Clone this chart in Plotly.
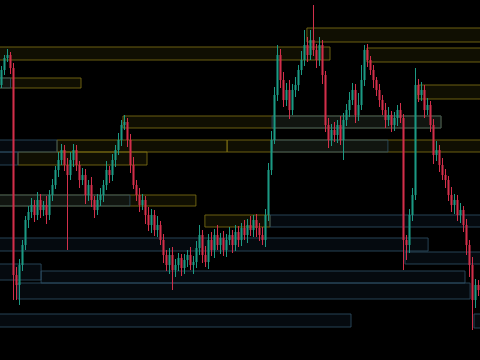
import plotly.graph_objects as go

first_open = 275
closes = [290, 302, 305, 292, 85, 75, 95, 115, 140, 148, 155, 145, 160, 150, 155, 145, 165, 175, 190, 200,
          210, 195, 185, 200, 210, 195, 180, 185, 165, 175, 160, 150, 160, 165, 175, 190, 185, 200, 210, 220,
          235, 238, 220, 195, 175, 165, 155, 160, 145, 135, 145, 130, 135, 120, 105, 95, 105, 90, 95, 102,
          92, 100, 105, 95, 98, 112, 125, 105, 98, 120, 110, 125, 115, 122, 110, 120, 125, 115, 128, 120,
          132, 125, 135, 130, 140, 132, 125, 120, 145, 190, 220, 265, 305, 280, 260, 270, 250, 270, 275, 290,
          300, 315, 305, 320, 310, 300, 315, 285, 235, 220, 230, 225, 235, 220, 240, 250, 260, 270, 245, 255,
          280, 310, 300, 290, 280, 270, 260, 250, 240, 245, 235, 242, 250, 242, 120, 115, 145, 165, 275, 265,
          270, 250, 255, 235, 205, 210, 195, 185, 180, 165, 155, 160, 145, 150, 135, 115, 95, 60, 75, 70]
upper_wick = [4, 3, 6, 3, 5, 8, 6, 5, 4, 6, 7, 5, 8, 6, 4, 9, 5, 6, 4, 8,
              6, 5, 7, 8, 6, 5, 4, 7, 6, 5, 8, 4, 6, 7, 5, 9, 4, 6, 5, 7,
              5, 7, 4, 6, 8, 5, 7, 6, 4, 8, 6, 5, 9, 4, 6, 5, 7, 8, 6, 5,
              4, 6, 5, 8, 6, 7, 10, 5, 9, 6, 8, 6, 10, 5, 7, 6, 8, 5, 7, 6,
              5, 8, 6, 9, 5, 6, 5, 8, 6, 7, 9, 8, 10, 6, 8, 7, 10, 6, 8, 5,
              9, 15, 8, 10, 35, 6, 8, 5, 4, 7, 6, 8, 5, 9, 7, 6, 8, 7, 6, 12,
              15, 5, 6, 4, 5, 3, 6, 5, 7, 8, 4, 6, 5, 7, 4, 5, 6, 7, 17, 6,
              8, 5, 7, 4, 6, 9, 5, 7, 6, 4, 8, 6, 5, 7, 4, 6, 5, 8, 6, 5]
lower_wick = [3, 5, 4, 6, 25, 15, 20, 6, 5, 8, 6, 7, 5, 8, 6, 9, 5, 6, 4, 7,
              5, 6, 75, 5, 7, 6, 8, 5, 9, 6, 7, 8, 5, 6, 7, 5, 8, 6, 7, 5,
              6, 5, 7, 8, 4, 6, 7, 5, 9, 6, 8, 6, 7, 5, 8, 6, 9, 20, 7, 6,
              8, 6, 7, 5, 9, 6, 7, 8, 5, 7, 6, 8, 5, 9, 6, 7, 5, 8, 6, 7,
              6, 5, 8, 6, 7, 9, 6, 5, 7, 6, 5, 4, 6, 8, 7, 6, 9, 5, 7, 6,
              5, 6, 7, 5, 6, 8, 6, 9, 7, 8, 6, 7, 8, 5, 20, 6, 7, 5, 8, 6,
              5, 6, 7, 5, 8, 6, 7, 5, 8, 6, 7, 6, 8, 5, 30, 15, 8, 6, 5, 7,
              6, 8, 5, 7, 9, 6, 7, 5, 8, 6, 7, 9, 6, 8, 7, 10, 12, 30, 8, 6]

# zones: start index, end index, bottom price, top price, kind
zone_x0 = [-2, -2, 101.8, 121.8, 138.8, 40.5, 18.5, 75.2, 5.5, -2, 67.8,
           -2, -2, -2, 90.2, 90.2, -2, -2, 5.5, -2, 134.5, 13.2, 89.5, 157.5, -2]
zone_x1 = [109.5, 26.5, 162, 162, 162, 146.5, 75.2, 162, 48.5, 64.8, 89.5,
           42.8, 5.5, 18.5, 128.8, 146.5, 142.2, 13.2, 156.2, 116.5, 162, 154.5, 162, 162, 3]
zone_y0 = [300, 272, 318, 298, 261, 232, 208, 208, 195, 154, 133,
           154, 195, 208, 208, 232, 109, 80, 61, 33, 96, 77, 133, 32, 272]
zone_y1 = [313, 282, 332, 312, 275, 244, 220, 220, 208, 165, 145,
           165, 208, 220, 220, 244, 122, 96, 77, 46, 108, 89, 145, 46, 282]
zone_kind = ["s"] * 11 + ["d"] * 14

n = len(closes)
idx = list(range(n))
opens = [first_open] + closes[:-1]
highs = [max(o, c) + u for o, c, u in zip(opens, closes, upper_wick)]
lows = [min(o, c) - d for o, c, d in zip(opens, closes, lower_wick)]

fig = go.Figure()
fig.add_trace(go.Candlestick(
    x=idx, open=opens, high=highs, low=lows, close=closes,
    increasing=dict(line=dict(color="#1c9a84", width=1), fillcolor="#1c9a84"),
    decreasing=dict(line=dict(color="#d2304b", width=1), fillcolor="#d2304b"),
    whiskerwidth=0, showlegend=False, hoverinfo="skip"))

styles = {
    "s": dict(line=dict(color="rgba(125,112,20,0.85)", width=1), fillcolor="rgba(90,85,10,0.18)"),
    "d": dict(line=dict(color="rgba(45,78,100,0.85)", width=1), fillcolor="rgba(25,45,70,0.22)"),
}
for x0, x1, y0, y1, k in zip(zone_x0, zone_x1, zone_y0, zone_y1, zone_kind):
    fig.add_shape(type="rect", xref="x", yref="y", x0=x0, x1=x1, y0=y0, y1=y1,
                  layer="below", **styles[k])

fig.update_layout(
    width=480, height=360, margin=dict(l=0, r=0, t=0, b=0),
    paper_bgcolor="black", plot_bgcolor="black",
    boxgap=0.5,
    xaxis=dict(range=[-0.5, n - 0.5], visible=False, rangeslider=dict(visible=False), fixedrange=True),
    yaxis=dict(range=[0, 360], visible=False, fixedrange=True),
    showlegend=False,
)
fig.write_html("out.html", config=dict(displayModeBar=False))
